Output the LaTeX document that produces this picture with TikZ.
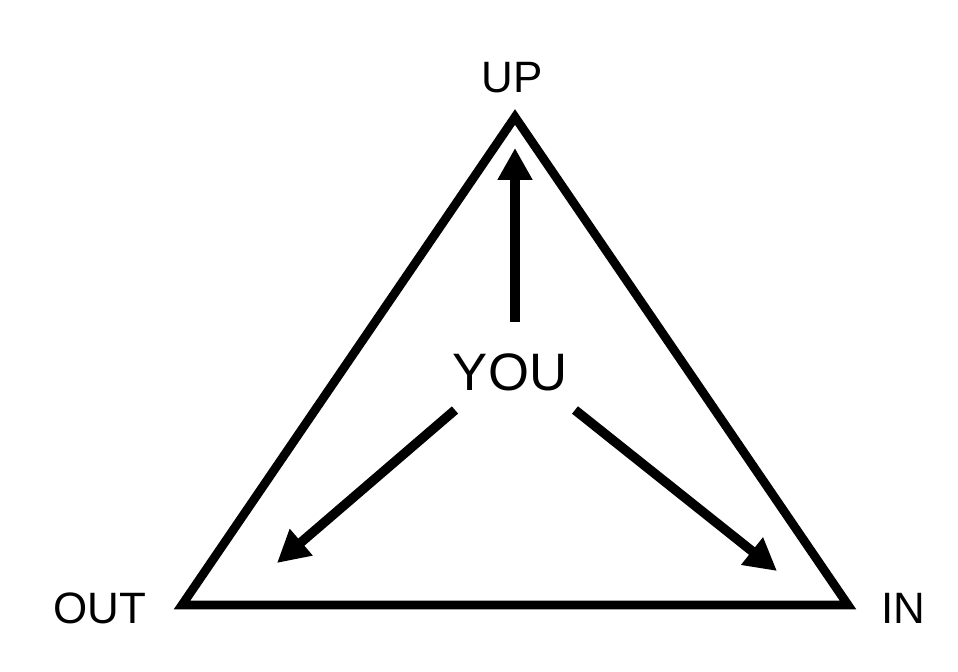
\documentclass[tikz,border=0pt]{standalone}
\usepackage{fontspec}
\setmainfont{Liberation Sans}
\usetikzlibrary{positioning,arrows.meta}

\begin{document}
\begin{tikzpicture}[x = 0.02cm, y = -0.02cm, line join = miter,
side/.style = {line width = 5pt},
push/.style = {-{Triangle[length = 0.64cm, width = 0.66cm]}, line width = 5.4pt},
word/.style = {inner sep = 0pt, text = black, font = \fontsize{25}{29}\selectfont}]
\useasboundingbox (0,0) rectangle (958,672);
\coordinate (T) at (515,117);
\coordinate (L) at (182,605);
\coordinate (R) at (848,605);
\draw[side] (T) -- (L) -- (R) -- cycle;

\node[word] (up) at (512,78) {UP};
\node[word] (out) at (100,608) {OUT};
\node[word] (in) at (903,608) {IN};
\node[word, font = \fontsize{30}{34}\selectfont] (you) at (510,372) {YOU};

\coordinate (u0) at (515,322);
\coordinate (u1) at (515,148);
\coordinate (o0) at (455,410);
\coordinate (o1) at (277,563);
\coordinate (i0) at (575,410);
\coordinate (i1) at (777,571);

\draw[push] (u0) -- (u1);
\draw[push] (o0) -- (o1);
\draw[push] (i0) -- (i1);
\end{tikzpicture}
\end{document}
